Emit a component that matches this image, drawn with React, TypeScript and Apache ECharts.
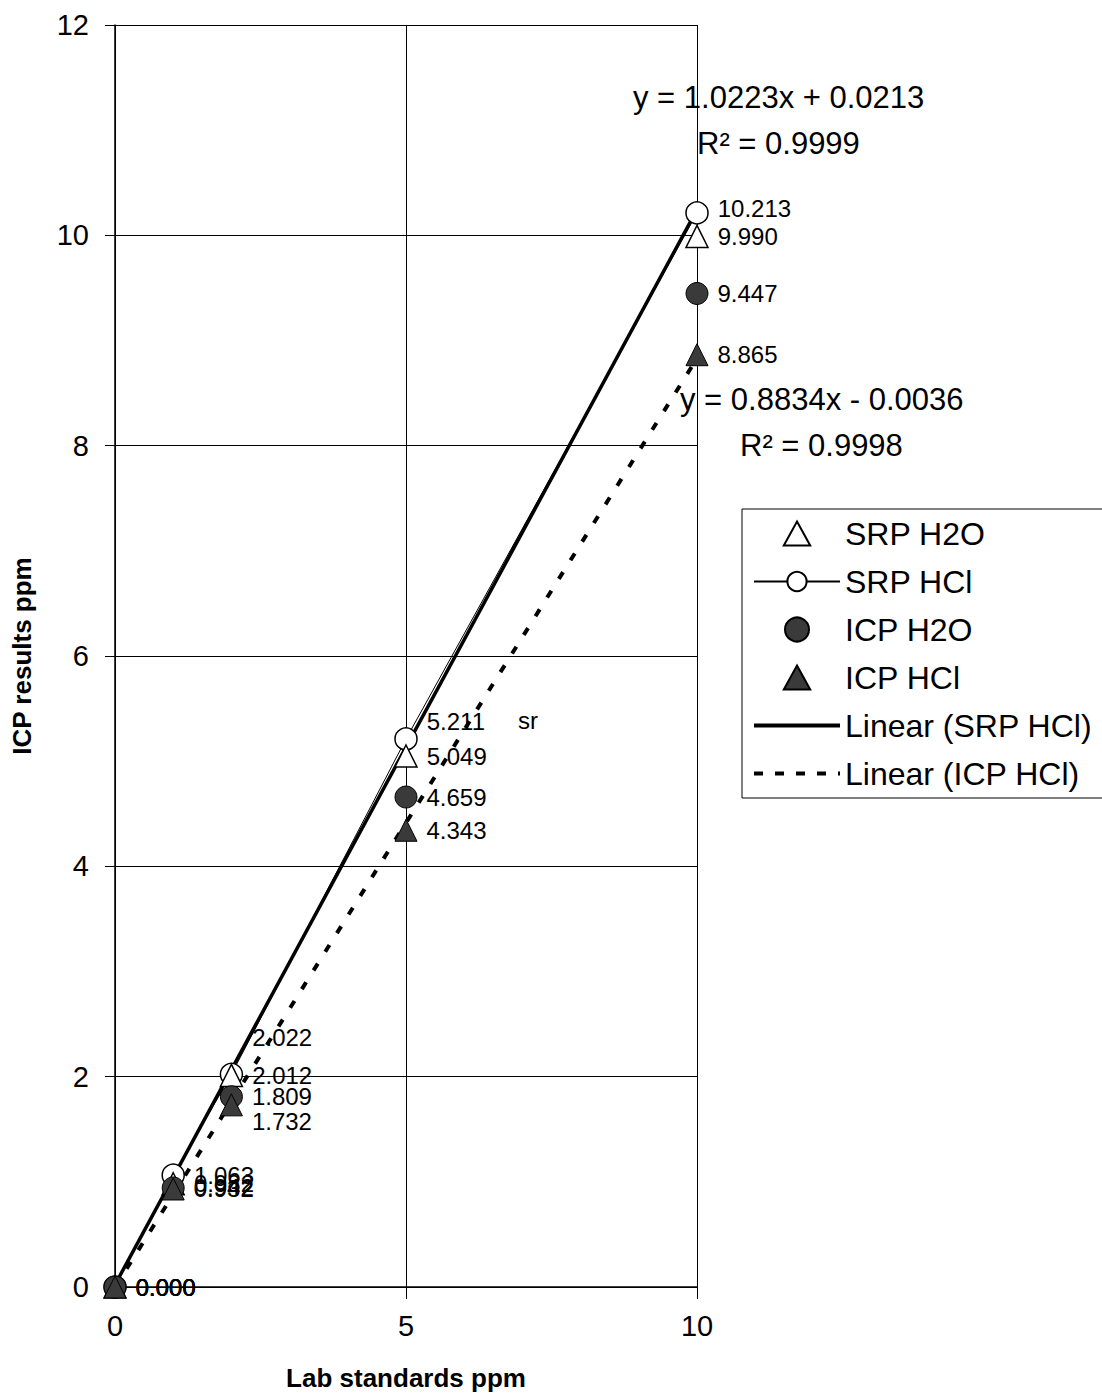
import React, { useEffect, useRef } from "react";
import * as echarts from "echarts";

const xValues = [0, 1, 2, 5, 10];
const srpH2O = [0, 0.982, 2.012, 5.049, 9.99];
const srpHCl = [0, 1.063, 2.022, 5.211, 10.213];
const icpH2O = [0, 0.942, 1.809, 4.659, 9.447];
const icpHCl = [0, 0.932, 1.732, 4.343, 8.865];

const trendSRP = [[0, 0.0213], [10, 10.2443]];
const trendICP = [[0, -0.0036], [10, 8.8304]];

const xTicks = [0, 5, 10];
const yTicks = [0, 2, 4, 6, 8, 10, 12];

const eqSRP = ["y = 1.0223x + 0.0213", "R² = 0.9999"];
const eqICP = ["y = 0.8834x - 0.0036", "R² = 0.9998"];

// manual label nudges (pixels), like the dragged labels in the original
const labelNudge: Record<string, Record<number, number[]>> = {
  "SRP HCl": { 2: [0, -37], 3: [0, -17], 4: [0, -4] },
  "ICP HCl": { 2: [0, 17] },
};

const FONT = "Liberation Sans, Arial, sans-serif";
const TRI_ICON = "path://M11,0 L22,20 L0,20 Z";

function buildData(name: string, ys: number[]) {
  return xValues.map((x, i) => {
    const item: any = { value: [x, ys[i]] };
    const n = labelNudge[name] && labelNudge[name][i];
    if (n) item.label = { offset: n };
    return item;
  });
}

const baseLabel = {
  show: true,
  position: "right",
  distance: 9,
  color: "#000",
  fontSize: 24,
  fontFamily: FONT,
  formatter: (p: any) => Number(p.value[1]).toFixed(3),
};

export default function App() {
  const ref = useRef<HTMLDivElement>(null);
  useEffect(() => {
    if (!ref.current) return;
    const chart = echarts.init(ref.current, null, { renderer: "svg" });
    const option: any = {
      animation: false,
      backgroundColor: "#fff",
      textStyle: { fontFamily: FONT, color: "#000" },
      grid: { left: 115, right: 405, top: 25, bottom: 110, containLabel: false, outerBoundsMode: "none" },
      xAxis: {
        type: "value",
        min: 0,
        max: 10,
        interval: 5,
        name: "Lab standards ppm",
        nameLocation: "middle",
        nameGap: 78,
        nameTextStyle: { fontSize: 26, fontWeight: "bold", color: "#000", fontFamily: FONT },
        axisLine: { show: true, lineStyle: { color: "#000", width: 1.5 } },
        axisTick: { show: true, length: 12, inside: false, lineStyle: { color: "#000" } },
        axisLabel: {
          fontSize: 29,
          color: "#000",
          margin: 24,
          fontFamily: FONT,
          formatter: (v: number) => (xTicks.indexOf(v) >= 0 ? String(v) : ""),
        },
        splitLine: { show: true, lineStyle: { color: "#000", width: 1 } },
      },
      yAxis: {
        type: "value",
        min: 0,
        max: 12,
        interval: 2,
        name: "ICP results ppm",
        nameLocation: "middle",
        nameGap: 80,
        nameRotate: 90,
        nameTextStyle: { fontSize: 26, fontWeight: "bold", color: "#000", fontFamily: FONT },
        axisLine: { show: true, lineStyle: { color: "#000", width: 1.5 } },
        axisTick: { show: true, length: 10, inside: false, lineStyle: { color: "#000" } },
        axisLabel: {
          fontSize: 29,
          color: "#000",
          margin: 26,
          fontFamily: FONT,
          formatter: (v: number) => (yTicks.indexOf(v) >= 0 ? String(v) : ""),
        },
        splitLine: { show: true, lineStyle: { color: "#000", width: 1 } },
      },
      legend: {
        orient: "vertical",
        left: 742,
        top: 509,
        padding: [6, 14, 6, 10],
        borderColor: "#000",
        borderWidth: 1,
        backgroundColor: "#fff",
        itemWidth: 86,
        itemHeight: 24,
        itemGap: 11,
        symbolKeepAspect: true,
        textStyle: { fontSize: 32, lineHeight: 37, color: "#000", fontFamily: FONT },
        data: [
          { name: "SRP H2O", icon: TRI_ICON },
          { name: "SRP HCl" },
          { name: "ICP H2O" },
          { name: "ICP HCl", icon: TRI_ICON },
          { name: "Linear (SRP HCl)", lineStyle: { width: 4, color: "#000" } },
          { name: "Linear (ICP HCl)", lineStyle: { width: 4, color: "#000", type: [9, 12] } },
        ],
      },
      graphic: [
        {
          type: "text",
          left: 633,
          top: 82,
          style: { text: eqSRP[0], fontSize: 31, fill: "#000", fontFamily: FONT },
          z: 10,
        },
        {
          type: "text",
          left: 697,
          top: 128,
          style: { text: eqSRP[1], fontSize: 31, fill: "#000", fontFamily: FONT },
          z: 10,
        },
        {
          type: "text",
          left: 680,
          top: 384,
          style: { text: eqICP[0], fontSize: 31, fill: "#000", fontFamily: FONT },
          z: 10,
        },
        {
          type: "text",
          left: 740,
          top: 430,
          style: { text: eqICP[1], fontSize: 31, fill: "#000", fontFamily: FONT },
          z: 10,
        },
        {
          type: "text",
          left: 518,
          top: 708,
          style: { text: "sr", fontSize: 24, fill: "#000", fontFamily: FONT },
          z: 10,
        },
      ],
      series: [
        {
          name: "Linear (SRP HCl)",
          type: "line",
          data: trendSRP,
          symbol: "none",
          itemStyle: { color: "#000", opacity: 0 },
          lineStyle: { color: "#000", width: 3.5, type: "solid", opacity: 1 },
          z: 3,
        },
        {
          name: "Linear (ICP HCl)",
          type: "line",
          data: trendICP,
          symbol: "none",
          itemStyle: { color: "#000", opacity: 0 },
          lineStyle: { color: "#000", width: 4, type: [8, 14], opacity: 1 },
          z: 3,
        },
        {
          name: "SRP HCl",
          type: "line",
          data: buildData("SRP HCl", srpHCl),
          symbol: "circle",
          symbolSize: 22,
          showAllSymbol: true,
          clip: false,
          lineStyle: { color: "#000", width: 1 },
          itemStyle: { color: "#fff", borderColor: "#000", borderWidth: 1.5, opacity: 1 },
          label: baseLabel,
          z: 4,
        },
        {
          name: "SRP H2O",
          type: "scatter",
          data: buildData("SRP H2O", srpH2O),
          symbol: "triangle",
          symbolSize: 22,
          clip: false,
          itemStyle: { color: "#fff", borderColor: "#000", borderWidth: 1.5, opacity: 1 },
          label: baseLabel,
          z: 5,
        },
        {
          name: "ICP H2O",
          type: "scatter",
          data: buildData("ICP H2O", icpH2O),
          symbol: "circle",
          symbolSize: 22,
          clip: false,
          itemStyle: { color: "#3a3a3a", borderColor: "#000", borderWidth: 1, opacity: 1 },
          label: baseLabel,
          z: 5,
        },
        {
          name: "ICP HCl",
          type: "scatter",
          data: buildData("ICP HCl", icpHCl),
          symbol: "triangle",
          symbolSize: 22,
          clip: false,
          itemStyle: { color: "#3a3a3a", borderColor: "#000", borderWidth: 1, opacity: 1 },
          label: baseLabel,
          z: 5,
        },
      ],
    };
    chart.setOption(option);
    return () => chart.dispose();
  }, []);
  return (
    <div
      ref={ref}
      style={{ position: "absolute", left: 0, top: 0, width: 1102, height: 1397, background: "#fff" }}
    />
  );
}
